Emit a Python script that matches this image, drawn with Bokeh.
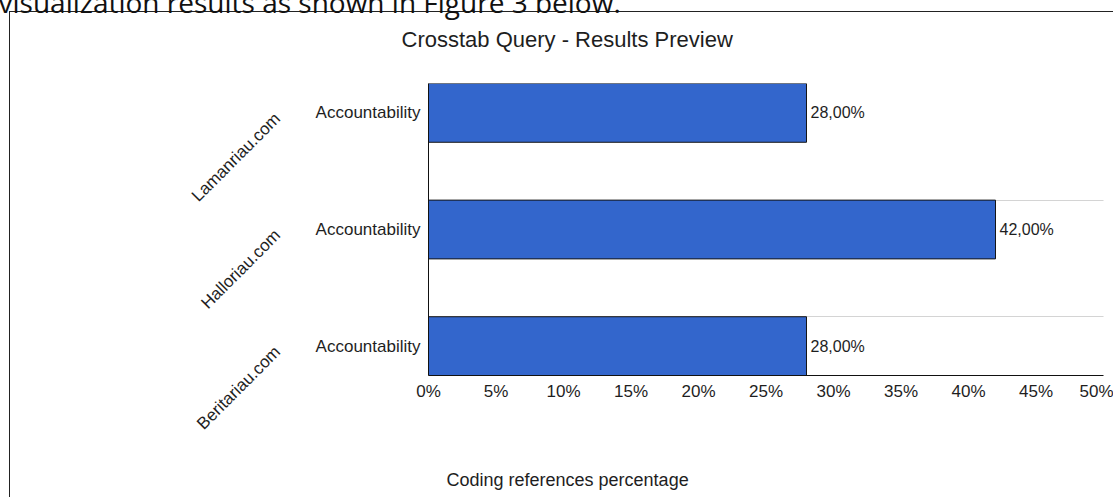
import math
from bokeh.plotting import figure
from bokeh.models import Range1d, FixedTicker, LinearAxis, Title, Grid, ColumnDataSource
from bokeh.core.properties import value
from bokeh.embed import file_html
from bokeh.resources import INLINE

# ---- data ----
sites = ["Lamanriau.com", "Halloriau.com", "Beritariau.com"]
codes = ["Accountability", "Accountability", "Accountability"]
percentages = [28.0, 42.0, 28.0]
x_ticks = [0, 5, 10, 15, 20, 25, 30, 35, 40, 45, 50]
x_tick_labels = ["0%", "5%", "10%", "15%", "20%", "25%", "30%", "35%", "40%", "45%", "50%"]
title_text = "Crosstab Query - Results Preview"
x_label_text = "Coding references percentage"
caption_text = "visualization results as shown in Figure 3 below."

FONT = "Liberation Sans"
TXT = "#1e1e1e"
BAR_H = 0.504
SITE_NUDGE = -0.025
SHIFT = 40          # canvas starts this many px above the page top
ypos = [len(sites) - 1 - i for i in range(len(sites))]  # top to bottom
value_labels = [("%.2f%%" % v).replace(".", ",") for v in percentages]

p = figure(width=1113, height=497 + SHIFT, output_backend="svg", toolbar_location=None,
           x_range=Range1d(0, 50), y_range=Range1d(-BAR_H / 2, ypos[0] + BAR_H / 2),
           x_axis_location=None, y_axis_location=None,
           min_border_left=428, min_border_right=10,
           min_border_top=83 + SHIFT, min_border_bottom=122,
           styles={"margin-top": "-%dpx" % SHIFT,
                   "background-color": "#ffffff",
                   "background-image": "linear-gradient(#222222, #222222), linear-gradient(#222222, #222222)",
                   "background-position": "9px %dpx, 9px %dpx" % (11 + SHIFT, 11 + SHIFT),
                   "background-size": "1px 100%, 100% 1px",
                   "background-repeat": "no-repeat"})
p.outline_line_color = None
p.background_fill_color = "white"
p.border_fill_color = None
for g in p.grid:
    g.visible = False

grid = Grid(dimension=1, ticker=FixedTicker(ticks=[y + BAR_H / 2 for y in ypos]),
            grid_line_color="#a8a8a8", grid_line_dash="1 1", grid_line_width=1)
p.add_layout(grid, "center")

# x axis
xaxis = LinearAxis(ticker=FixedTicker(ticks=x_ticks),
                   major_label_overrides=dict(zip(x_ticks, x_tick_labels)),
                   axis_line_color="#111111", axis_line_width=1,
                   major_tick_line_color=None, minor_tick_line_color=None,
                   major_tick_in=0, major_tick_out=0, minor_tick_in=0, minor_tick_out=0,
                   major_label_standoff=6,
                   major_label_text_font=FONT, major_label_text_font_size="17px",
                   major_label_text_color=TXT)
p.add_layout(xaxis, "below")

# inner y axis (codes)
yaxis1 = LinearAxis(ticker=FixedTicker(ticks=ypos),
                    major_label_overrides=dict(zip(ypos, codes)),
                    axis_line_color="#111111", axis_line_width=1,
                    major_tick_line_color=None, minor_tick_line_color=None,
                    major_tick_in=0, major_tick_out=0, minor_tick_in=0, minor_tick_out=0,
                    major_label_standoff=8,
                    major_label_text_font=FONT, major_label_text_font_size="17px",
                    major_label_text_color=TXT)
p.add_layout(yaxis1, "left")

# outer y axis (sites)
site_ticks = [y + SITE_NUDGE for y in ypos]
yaxis2 = LinearAxis(ticker=FixedTicker(ticks=site_ticks),
                    major_label_overrides=dict(zip(site_ticks, sites)),
                    axis_line_color=None,
                    major_tick_line_color=None, minor_tick_line_color=None,
                    major_tick_in=0, major_tick_out=0, minor_tick_in=0, minor_tick_out=0,
                    major_label_standoff=35, major_label_orientation=math.pi / 4,
                    major_label_text_font=FONT, major_label_text_font_size="17px",
                    major_label_text_color=TXT)
p.add_layout(yaxis2, "left")

src = ColumnDataSource(dict(y=ypos, right=percentages, label=value_labels))
p.hbar(y="y", left=0, right="right", height=BAR_H, source=src,
       fill_color="#3366cc", line_color="#151515", line_width=1)
p.text(x="right", y="y", text="label", source=src, x_offset=4,
       text_baseline="middle", text_align="left",
       text_font=value(FONT), text_font_size="16px", text_color=TXT)

# ---- top stack (from frame outwards): spacer, chart title, page caption ----
p.add_layout(Title(text=".", standoff=22, text_font=FONT, text_font_size="10px",
                   text_color="#ffffff"), "above")
p.add_layout(Title(text=title_text, align="left", offset=-27, standoff=0, vertical_align="bottom",
                   text_font=FONT, text_font_size="22px", text_font_style="normal",
                   text_color=TXT), "above")
p.add_layout(Title(text=caption_text, align="left", offset=-430, standoff=8, vertical_align="bottom",
                   text_font="Open Sans", text_font_size="28px", text_font_style="normal",
                   text_color="#111111"), "above")

# ---- bottom stack: x axis, spacer, axis title ----
p.add_layout(Title(text=".", standoff=56, text_font=FONT, text_font_size="10px",
                   text_color="#ffffff"), "below")
p.add_layout(Title(text=x_label_text, align="left", offset=18, standoff=0, vertical_align="top",
                   text_font=FONT, text_font_size="18px", text_font_style="normal",
                   text_color=TXT), "below")

open("out.html", "w").write(file_html(p, INLINE))
